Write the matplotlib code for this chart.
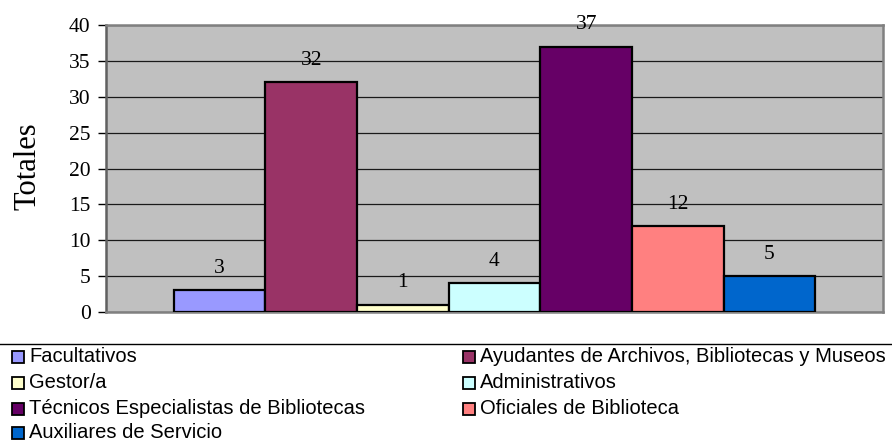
import matplotlib
matplotlib.use("Agg")
import matplotlib.pyplot as plt
from matplotlib.patches import Rectangle
from matplotlib.lines import Line2D

categories = ["Facultativos", "Ayudantes de Archivos, Bibliotecas y Museos", "Gestor/a",
              "Administrativos", "Técnicos Especialistas de Bibliotecas",
              "Oficiales de Biblioteca", "Auxiliares de Servicio"]
values = [3, 32, 1, 4, 37, 12, 5]
colors = ["#9999FF", "#993366", "#FFFFCC", "#CCFFFF", "#660066", "#FF8080", "#0066CC"]
yticks = [0, 5, 10, 15, 20, 25, 30, 35, 40]
ylabel = "Totales"

W, H = 892, 441
fig = plt.figure(figsize=(W / 100, H / 100), dpi=100)
ax = fig.add_axes([106 / W, (H - 312) / H, (883 - 106) / W, (312 - 25) / H])
ax.set_facecolor("#C0C0C0")

x = list(range(len(values)))
bars = ax.bar(x, values, width=1.0, color=colors, edgecolor="black", linewidth=1.6, zorder=3)
for xi, v in zip(x, values):
    ax.annotate(str(v), xy=(xi, v), xytext=(0, 12.5), textcoords="offset points",
                ha="center", va="baseline", fontsize=15.5, family="Liberation Serif",
                annotation_clip=False)

ax.set_xlim(-1.24, 6.24 + 1.0)
ax.set_ylim(0, 40)
ax.set_yticks(yticks)
ax.set_yticklabels([str(t) for t in yticks], family="Liberation Serif", fontsize=15.5)
ax.set_xticks([])
ax.yaxis.grid(True, color="#1a1a1a", linewidth=0.9, zorder=1)
ax.set_axisbelow(True)
ax.tick_params(axis="y", direction="out", length=6, width=1, color="black", pad=5)
for s in ["top", "right", "bottom"]:
    ax.spines[s].set_color("#808080")
    ax.spines[s].set_linewidth(1.8)
ax.spines["left"].set_color("#606060")
ax.spines["left"].set_linewidth(1.8)
ax.set_ylabel(ylabel, family="Liberation Serif", fontsize=22)
ax.yaxis.set_label_coords((42 - 106) / 777, (312 - 166.5) / 287)

# legend separator line
fig.add_artist(Line2D([0, 1], [(H - 344) / H, (H - 344) / H], color="black", linewidth=1.0,
                      transform=fig.transFigure))

# legend entries, row-wise in two columns
col_x = [12, 463]
row_y = [357, 383, 409, 433]
sq = 12
for i, (lab, c) in enumerate(zip(categories, colors)):
    r, col = divmod(i, 2)
    mx = col_x[col]
    my = row_y[r]
    fig.add_artist(Rectangle(((mx) / W, (H - my - sq / 2) / H), sq / W, sq / H,
                             facecolor=c, edgecolor="black", linewidth=1.3,
                             transform=fig.transFigure))
    fig.text((mx + sq + 5) / W, (H - my) / H, lab, ha="left", va="center",
             family="Liberation Sans", fontsize=14.5)

fig.savefig("out.png", dpi=100)
